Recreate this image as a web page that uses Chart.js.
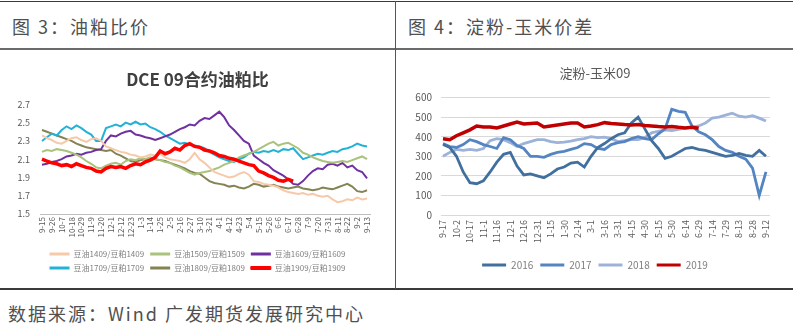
<!DOCTYPE html>
<html><head><meta charset="utf-8">
<script src="https://cdn.jsdelivr.net/npm/chart.js@4.4.1/dist/chart.umd.min.js"></script>
<style>
html,body{margin:0;padding:0;background:#fff;width:800px;height:332px;overflow:hidden;font-family:'Noto Sans CJK SC','Noto Sans',sans-serif;}
.hl{position:absolute;left:0;width:793px;background:#3a3a3a;}
.hd{position:absolute;top:12px;font-size:18px;line-height:28px;color:#505050;letter-spacing:2px;white-space:nowrap;}
.ft{position:absolute;left:8px;top:299px;font-size:18px;line-height:28px;color:#505050;letter-spacing:2px;white-space:nowrap;}
canvas{position:absolute;}
</style></head><body>
<div class="hl" style="top:1px;height:1px"></div>
<div class="hl" style="top:48px;height:2px;background:#6a6a6a"></div>
<div class="hl" style="top:288px;height:2px"></div>
<div style="position:absolute;left:395px;top:1px;width:1px;height:288px;background:#555"></div>
<div class="hd" style="left:12px">图 3：油粕比价</div>
<div class="hd" style="left:408px">图 4：淀粉-玉米价差</div>
<div class="ft">数据来源：Wind 广发期货发展研究中心</div>
<canvas id="c1" width="395" height="238" style="left:0;top:50px"></canvas>
<canvas id="c2" width="396" height="238" style="left:397px;top:50px"></canvas>
<script>
// ---------- Figure 3 data ----------
const oilTicks = ['9-15','9-26','10-7','10-18','10-29','11-9','11-20','12-1','12-12','12-23','1-3','1-14','1-25','2-5','2-16','2-27','3-10','3-21','4-1','4-12','4-23','5-4','5-15','5-26','6-6','6-17','6-28','7-9','7-20','7-31','8-11','8-22','9-2','9-13'];
const oilYTicks = [1.5,1.7,1.9,2.1,2.3,2.5,2.7];
const oilLabels = ['豆油1409/豆粕1409','豆油1509/豆粕1509','豆油1609/豆粕1609','豆油1709/豆粕1709','豆油1809/豆粕1809','豆油1909/豆粕1909'];
const s1409 = [2.36,2.33,2.31,2.28,2.27,2.30,2.33,2.34,2.31,2.29,2.32,2.33,2.30,2.24,2.22,2.20,2.18,2.17,2.15,2.14,2.12,2.13,2.15,2.14,2.16,2.12,2.10,2.09,2.08,2.06,2.10,2.17,2.10,2.06,2.01,1.96,1.94,1.92,1.90,1.91,1.94,1.96,1.93,1.86,1.85,1.83,1.82,1.81,1.79,1.76,1.74,1.73,1.72,1.73,1.71,1.72,1.70,1.69,1.70,1.66,1.63,1.64,1.66,1.65,1.68,1.66,1.67];
const s1509 = [2.18,2.20,2.19,2.21,2.20,2.19,2.17,2.15,2.12,2.08,2.05,2.01,2.00,2.03,2.05,2.06,2.04,2.08,2.10,2.09,2.11,2.10,2.12,2.10,2.09,2.07,2.06,2.03,2.01,1.98,1.95,1.93,1.95,1.96,1.97,1.99,2.01,2.04,2.06,2.08,2.12,2.14,2.16,2.18,2.21,2.24,2.27,2.29,2.25,2.27,2.28,2.25,2.22,2.17,2.15,2.12,2.10,2.08,2.07,2.06,2.07,2.08,2.07,2.09,2.11,2.13,2.10];
const s1609 = [2.04,2.05,2.07,2.08,2.10,2.13,2.14,2.16,2.15,2.17,2.18,2.20,2.21,2.30,2.36,2.35,2.38,2.40,2.41,2.37,2.36,2.34,2.33,2.31,2.33,2.35,2.37,2.40,2.43,2.45,2.48,2.47,2.52,2.55,2.54,2.58,2.62,2.56,2.47,2.42,2.36,2.30,2.27,2.14,2.10,2.06,2.03,1.98,1.95,1.92,1.88,1.83,1.82,1.86,1.92,1.97,2.00,1.99,2.04,2.05,2.03,2.06,2.01,2.03,1.98,1.96,1.89];
const s1709 = [2.30,2.34,2.38,2.36,2.42,2.46,2.43,2.47,2.44,2.40,2.37,2.30,2.30,2.44,2.46,2.48,2.46,2.50,2.48,2.51,2.48,2.49,2.45,2.43,2.40,2.36,2.33,2.30,2.27,2.28,2.26,2.25,2.24,2.22,2.18,2.15,2.12,2.10,2.08,2.07,2.10,2.12,2.16,2.18,2.17,2.19,2.18,2.20,2.18,2.21,2.20,2.22,2.16,2.10,2.12,2.14,2.16,2.15,2.17,2.19,2.18,2.21,2.22,2.24,2.27,2.25,2.24];
const s1809 = [2.42,2.40,2.38,2.36,2.34,2.32,2.30,2.27,2.25,2.23,2.22,2.21,2.20,2.19,2.20,2.16,2.14,2.11,2.08,2.07,2.09,2.10,2.11,2.10,2.09,2.08,2.06,2.04,2.02,2.00,1.97,1.95,1.94,1.90,1.86,1.84,1.83,1.82,1.80,1.81,1.79,1.78,1.80,1.83,1.82,1.80,1.81,1.82,1.80,1.79,1.78,1.79,1.80,1.78,1.77,1.76,1.77,1.79,1.78,1.77,1.79,1.81,1.83,1.80,1.75,1.74,1.76];
const s1909 = [2.10,2.08,2.06,2.05,2.03,2.04,2.02,2.05,2.03,2.01,2.00,1.97,1.96,2.00,2.02,2.01,2.02,2.00,2.03,2.05,2.04,2.07,2.09,2.12,2.19,2.16,2.18,2.22,2.20,2.25,2.27,2.24,2.23,2.20,2.19,2.17,2.14,2.13,2.11,2.10,2.08,2.06,2.04,2.03,1.97,1.95,1.92,1.90,1.87,1.86,1.88,1.86];

// ---------- Figure 4 data ----------
const starchTicks = ['9-17','10-2','10-17','11-1','11-16','12-1','12-16','12-31','1-15','1-30','2-14','3-1','3-16','3-31','4-15','4-30','5-15','5-30','6-14','6-29','7-14','7-29','8-13','8-28','9-12'];
const starchYTicks = [0,100,200,300,400,500,600];
const starchLabels = ['2016','2017','2018','2019'];
const c2016 = [360,345,300,220,165,160,175,220,270,310,320,250,205,210,200,190,210,235,245,265,270,245,300,345,365,390,410,420,470,500,440,380,340,290,300,320,340,345,335,330,320,310,300,305,315,305,300,330,300];
const c2017 = [365,350,345,360,385,375,360,350,340,395,385,355,340,300,300,295,310,320,325,335,345,365,360,340,335,360,370,375,390,400,390,385,415,440,540,530,525,455,425,410,385,350,330,320,300,285,240,100,220];
const c2018 = [300,320,335,330,335,330,340,380,390,385,370,350,365,375,385,385,375,370,372,378,385,390,400,395,398,390,375,380,385,385,395,420,428,435,432,438,445,448,455,470,495,500,510,520,505,500,508,495,480];
const c2019 = [390,385,405,420,435,455,450,450,445,455,465,475,465,468,470,450,455,460,465,470,470,450,455,462,472,468,465,462,460,462,458,455,452,450,452,448,445,448,443];

const STEP = 0.5; // each value is half a tick interval apart
const pts = arr => arr.map((v,i)=>({x:i*STEP, y:v}));
Chart.defaults.font.family = "'Noto Sans CJK SC','Noto Sans',sans-serif";
const legendGen = chart => chart.data.datasets.map((d,i)=>({text:d.label, fillStyle:d.borderColor, strokeStyle:d.borderColor, lineWidth:d.legendExtra||0, hidden:false, datasetIndex:i, fontColor:'#7f7f7f'}));
const spacer = w => ({position:'right', display:true, grid:{display:false,drawTicks:false}, ticks:{display:false}, border:{display:false}, afterFit:s=>{s.width=w;}});

const oilColors = ['#f6c9a8','#a9c27c','#7030a0','#22b2d6','#838354','#ff0000'];
const oilSeries = [s1409,s1509,s1609,s1709,s1809,s1909];
new Chart(document.getElementById('c1'), {
  type:'line',
  data:{datasets: oilSeries.map((s,i)=>({
    label: oilLabels[i], data: pts(s), borderColor: oilColors[i], backgroundColor: oilColors[i],
    borderWidth: i===5 ? 3.5 : 2, pointRadius:0, tension:0, order: i===5 ? -1 : i, legendExtra: i===5 ? 1 : 0
  }))},
  options:{
    responsive:false, animation:false,
    layout:{padding:{left:0,right:0,top:0,bottom:6}},
    plugins:{
      title:{display:true,text:'DCE 09合约油粕比',font:{size:17,weight:'bold'},color:'#404040',padding:{top:19,bottom:15}},
      legend:{position:'bottom',labels:{boxWidth:20,boxHeight:3,font:{size:8},color:'#7f7f7f',padding:6,generateLabels:legendGen}},
      tooltip:{enabled:false}
    },
    scales:{
      x:{type:'linear',min:-0.2,max:33.3,
        afterBuildTicks:s=>{s.ticks=oilTicks.map((_,i)=>({value:i}));},
        afterFit:s=>{s.height=30;},
        ticks:{callback:v=>oilTicks[v],minRotation:90,maxRotation:90,autoSkip:false,font:{size:8},color:'#595959',padding:3},
        grid:{display:false,drawTicks:false},
        border:{display:true,color:'#bfbfbf'}},
      y:{min:1.5,max:2.7,
        afterBuildTicks:s=>{s.ticks=oilYTicks.map(v=>({value:v}));},
        afterFit:s=>{s.width=40;},
        ticks:{callback:v=>v.toFixed(1),font:{size:9},color:'#595959',padding:10},
        grid:{display:false,drawTicks:false},border:{display:false}},
      pad:spacer(25)
    }
  }
});

const stColors = ['#41709f','#5485c2','#9db2d8','#c00000'];
const stSeries = [c2016,c2017,c2018,c2019];
new Chart(document.getElementById('c2'), {
  type:'line',
  data:{datasets: stSeries.map((s,i)=>({
    label: starchLabels[i], data: pts(s), borderColor: stColors[i], backgroundColor: stColors[i],
    borderWidth: i===3 ? 3.5 : 2.8, pointRadius:0, tension:0, order: i===3 ? -1 : i
  }))},
  options:{
    responsive:false, animation:false,
    layout:{padding:{left:0,right:0,top:0,bottom:8}},
    plugins:{
      title:{display:true,text:'淀粉-玉米09',font:{size:13,weight:'normal'},color:'#595959',padding:{top:15,bottom:17}},
      legend:{position:'bottom',labels:{boxWidth:24,boxHeight:3,font:{size:10},color:'#7f7f7f',padding:7,generateLabels:legendGen}},
      tooltip:{enabled:false}
    },
    scales:{
      x:{type:'linear',min:-0.15,max:24.3,
        afterBuildTicks:s=>{s.ticks=starchTicks.map((_,i)=>({value:i}));},
        afterFit:s=>{s.height=38;},
        ticks:{callback:v=>starchTicks[v],minRotation:90,maxRotation:90,autoSkip:false,font:{size:9},color:'#595959',padding:5},
        grid:{display:false,drawTicks:false},
        border:{display:false}},
      y:{min:0,max:600,
        afterBuildTicks:s=>{s.ticks=starchYTicks.map(v=>({value:v}));},
        afterFit:s=>{s.width=44;},
        ticks:{font:{size:10},color:'#595959',padding:9},
        grid:{display:true,drawTicks:false,color:'#d9d9d9',lineWidth:1},border:{display:false}},
      pad:spacer(23)
    }
  }
});
</script>
</body></html>
